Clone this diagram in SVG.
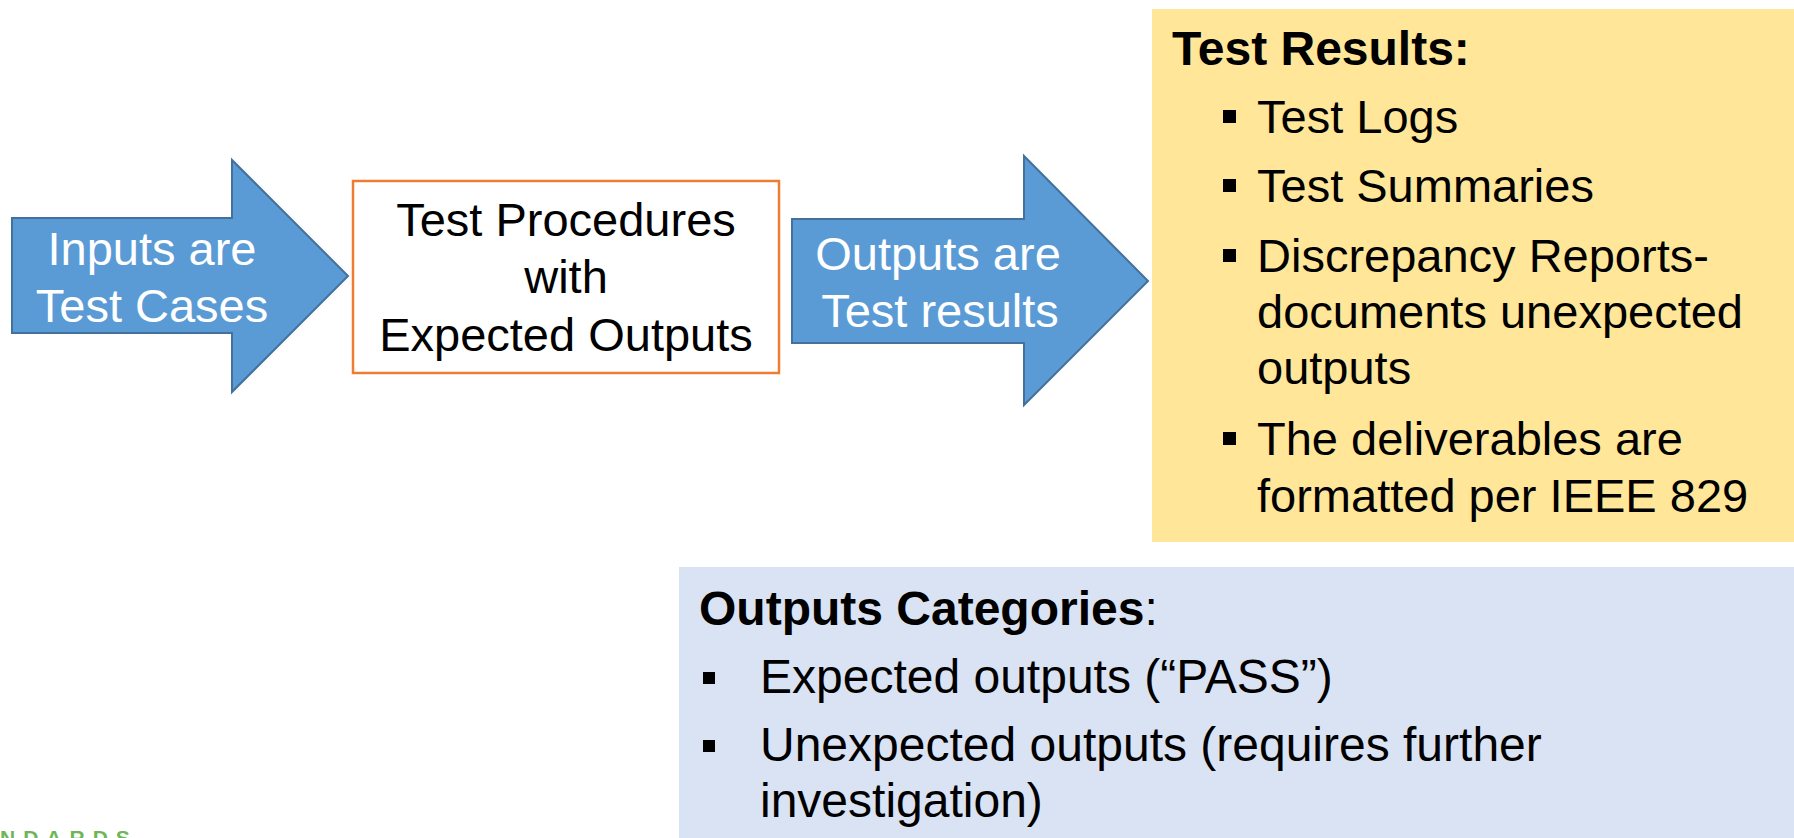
<svg xmlns="http://www.w3.org/2000/svg" width="1794" height="838" viewBox="0 0 1794 838">
<style>
.arrow{fill:#5B9BD5;stroke:#41719C;stroke-width:2;stroke-linejoin:miter}
.wt{font-family:"Liberation Sans",Arial,sans-serif;font-size:47px;fill:#FFFFFF;text-anchor:middle}
.bt{font-family:"Liberation Sans",Arial,sans-serif;font-size:47px;fill:#000000}
.bt2{font-family:"Liberation Sans",Arial,sans-serif;font-size:48px;fill:#000000}
.bc{text-anchor:middle}
.hd{font-family:"Liberation Sans",Arial,sans-serif;font-size:48px;font-weight:bold;fill:#000000}
.bul{fill:#000000}
</style>
<rect width="1794" height="838" fill="#FFFFFF"/>
<g id="connectors">
  <g id="arrow-inputs">
    <polygon class="arrow" points="12,218 232,218 232,160 348,276 232,392 232,333 12,333"/>
    <text class="wt" x="152" y="265">Inputs are</text>
    <text class="wt" x="152" y="322">Test Cases</text>
  </g>
  <g id="arrow-outputs">
    <polygon class="arrow" points="792,219 1024,219 1024,156 1148,281 1024,405 1024,343 792,343"/>
    <text class="wt" x="938" y="270">Outputs are</text>
    <text class="wt" x="940" y="327">Test results</text>
  </g>
</g>
<g id="node-procedures">
  <rect x="353" y="181" width="426" height="192" fill="#FFFFFF" stroke="#ED7D31" stroke-width="2.5"/>
  <text class="bt bc" x="566" y="236">Test Procedures</text>
  <text class="bt bc" x="566" y="293">with</text>
  <text class="bt bc" x="566" y="351">Expected Outputs</text>
</g>
<g id="node-test-results">
  <rect x="1152" y="9" width="642" height="533" fill="#FFE699"/>
  <text class="hd" x="1172" y="65">Test Results:</text>
  <rect class="bul" x="1223" y="110" width="13" height="13"/>
  <text class="bt" x="1257" y="133">Test Logs</text>
  <rect class="bul" x="1223" y="179" width="13" height="13"/>
  <text class="bt" x="1257" y="202">Test Summaries</text>
  <rect class="bul" x="1223" y="249" width="13" height="13"/>
  <text class="bt" x="1257" y="272">Discrepancy Reports-</text>
  <text class="bt" x="1257" y="328">documents unexpected</text>
  <text class="bt" x="1257" y="384">outputs</text>
  <rect class="bul" x="1223" y="432" width="13" height="13"/>
  <text class="bt" x="1257" y="455">The deliverables are</text>
  <text class="bt" x="1257" y="512">formatted per IEEE 829</text>
</g>
<g id="node-output-categories">
  <rect x="679" y="567" width="1115" height="271" fill="#DAE3F3"/>
  <text class="hd" x="699" y="625">Outputs Categories<tspan font-weight="normal">:</tspan></text>
  <rect class="bul" x="703" y="672" width="12" height="12"/>
  <text class="bt2" x="760" y="693">Expected outputs (“PASS”)</text>
  <rect class="bul" x="703" y="740" width="12" height="12"/>
  <text class="bt2" x="760" y="761">Unexpected outputs (requires further</text>
  <text class="bt2" x="760" y="817">investigation)</text>
</g>
<g id="logo-fragment">
  <text x="0" y="845" font-family="Liberation Sans,Arial,sans-serif" font-size="21" font-weight="bold" letter-spacing="8" fill="#5FAF45" opacity="0.9">NDARDS</text>
</g>
</svg>
